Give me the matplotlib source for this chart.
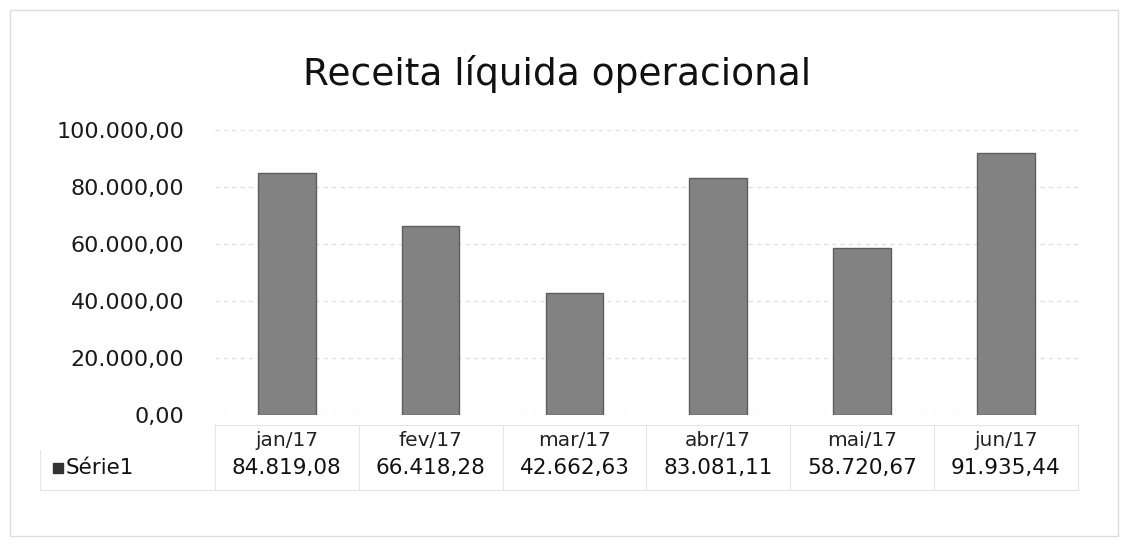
import matplotlib
matplotlib.use("Agg")
import matplotlib.pyplot as plt
from matplotlib.patches import Rectangle
import matplotlib.transforms as mtransforms

title = "Receita líquida operacional"
categories = ["jan/17", "fev/17", "mar/17", "abr/17", "mai/17", "jun/17"]
values = [84819.08, 66418.28, 42662.63, 83081.11, 58720.67, 91935.44]
series_name = "Série1"
yticks = [0, 20000, 40000, 60000, 80000, 100000]


def br(v):
    s = f"{v:,.2f}"
    return s.replace(",", "X").replace(".", ",").replace("X", ".")


fig = plt.figure(figsize=(11.25, 5.47), dpi=100)
fig.patch.set_facecolor("white")

# outer chart border
fig.add_artist(Rectangle((0.009, 0.02), 0.985, 0.962, transform=fig.transFigure,
                         fill=False, edgecolor="#dedede", linewidth=1))

ax = fig.add_axes([0.191, 0.2413, 0.767, 0.521])
x = list(range(len(categories)))
ax.bar(x, values, width=0.4, color="#828282", edgecolor="#5e5e5e", linewidth=1.0,
       zorder=3)
ax.set_xlim(-0.5, len(categories) - 0.5)
ax.set_ylim(0, 100000)
ax.set_yticks(yticks)
ax.set_yticklabels([br(t) for t in yticks], fontsize=16, color="#1a1a1a")
ax.yaxis.grid(True, color="#e0e0e0", linestyle=(0, (3, 3)), linewidth=1, zorder=0)
ax.set_xticks(x)
ax.set_xticklabels([])
ax.tick_params(axis="both", length=0, pad=22)
for s in ax.spines.values():
    s.set_visible(False)

fig.text(0.495, 0.865, title, ha="center", va="center", fontsize=27, color="#111111")

# data table
line_c = "#e4e4e4"
trans = mtransforms.blended_transform_factory(ax.transData, fig.transFigure)
for i, (c, v) in enumerate(zip(categories, values)):
    ax.text(i, 1 - 440 / 547, c, transform=trans, ha="center", va="center",
            fontsize=14.5, color="#222222", clip_on=False)
    ax.text(i, 1 - 468 / 547, br(v), transform=trans, ha="center", va="center",
            fontsize=15.5, color="#111111", clip_on=False)
    ax.plot([i - 0.5, i - 0.5], [1 - 425 / 547, 1 - 490 / 547], transform=trans,
            color=line_c, linewidth=0.8, clip_on=False)
ax.plot([len(categories) - 0.5] * 2, [1 - 425 / 547, 1 - 490 / 547], transform=trans,
        color=line_c, linewidth=0.8, clip_on=False)
ax.plot([-0.5, len(categories) - 0.5], [1 - 425 / 547] * 2, transform=trans,
        color=line_c, linewidth=0.8, clip_on=False)
fig.add_artist(plt.Line2D([40 / 1125, 1078 / 1125], [1 - 490 / 547] * 2,
                          transform=fig.transFigure, color=line_c, linewidth=0.8))
fig.add_artist(plt.Line2D([40 / 1125, 40 / 1125], [1 - 450 / 547, 1 - 490 / 547],
                          transform=fig.transFigure, color=line_c, linewidth=0.8))

# legend key in table
fig.add_artist(Rectangle((53 / 1125, 1 - 473 / 547), 10 / 1125, 10 / 547,
                         transform=fig.transFigure, color="#333333"))
fig.text(66 / 1125, 1 - 468 / 547, series_name, ha="left", va="center",
         fontsize=15.5, color="#111111")

fig.savefig("out.png", dpi=100, facecolor="white")
